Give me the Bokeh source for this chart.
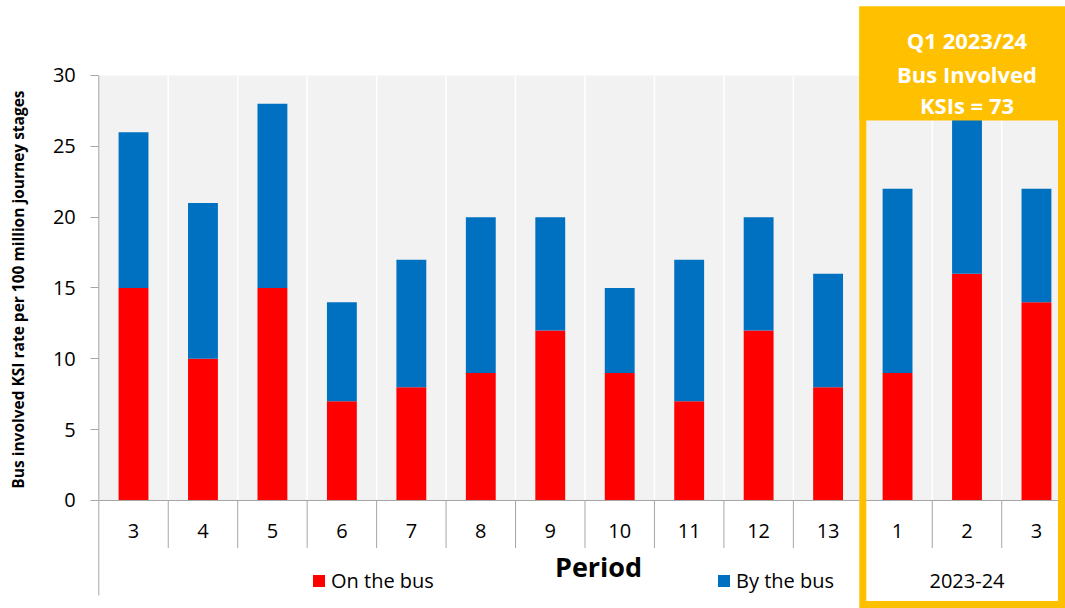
import math
from bokeh.plotting import figure
from bokeh.models import (ColumnDataSource, Range1d, FixedTicker, BoxAnnotation, Label,
                          Legend, LegendItem)
from bokeh.embed import file_html
from bokeh.resources import INLINE

# ---- data ----
periods = ["3", "4", "5", "6", "7", "8", "9", "10", "11", "12", "13", "1", "2", "3"]
on_the_bus = [15, 10, 15, 7, 8, 9, 12, 9, 7, 12, 8, 9, 16, 14]
by_the_bus = [11, 11, 13, 7, 9, 11, 8, 6, 10, 8, 8, 13, 12, 8]
group_label = "2023-24"
group_start = 11  # index of first period in 2023-24
y_ticks = [0, 5, 10, 15, 20, 25, 30]
y_title = "Bus involved KSI rate per 100 million journey stages"
x_title = "Period"
banner_lines = ["Q1 2023/24", "Bus Involved", "KSIs = 73"]

FONT = "Open Sans"
RED = "#FF0000"
BLUE = "#0070C0"
ORANGE = "#FFC000"
GREY = "#A6A6A6"

xs = list(range(len(periods)))
bounds = [i - 0.5 for i in xs]
y_top = max(y_ticks)
source = ColumnDataSource(dict(x=xs, on=on_the_bus, by=by_the_bus))

p = figure(width=1065, height=608, output_backend="svg", toolbar_location=None,
           x_range=Range1d(-1.915, 13.418), y_range=Range1d(-7.624, 35.294),
           min_border=0)
p.background_fill_color = "white"
p.border_fill_color = "white"
p.outline_line_color = None
p.grid.visible = False

# plot-area background
p.quad(left=[bounds[0]], right=[len(periods)], bottom=[0], top=[y_top],
       fill_color="#F2F2F2", line_color=None, level="image")
# white category separators in the plot area
p.segment(x0=bounds[1:], y0=0, x1=bounds[1:], y1=y_top, line_color="white", line_width=1.5,
          level="underlay")

rs = p.vbar_stack(["on", "by"], x="x", width=0.43, color=[RED, BLUE], line_color=None,
                  source=source)

# category axis line and separators
p.segment(x0=[bounds[0]], y0=[0], x1=[len(periods)], y1=[0], line_color=GREY, line_width=1)
p.segment(x0=bounds[1:], y0=0, x1=bounds[1:], y1=-3.35, line_color=GREY, line_width=1)
# value axis line continuing down as the outer separator
p.segment(x0=[bounds[0]], y0=[-6.7], x1=[bounds[0]], y1=[y_top], line_color=GREY, line_width=1)

# x axis (tick labels only)
xa = p.xaxis[0]
xa.fixed_location = 0
xa.ticker = FixedTicker(ticks=xs)
xa.major_label_overrides = {i: lab for i, lab in enumerate(periods)}
xa.axis_line_color = None
xa.major_tick_line_color = None
xa.minor_tick_line_color = None
xa.major_tick_out = 0
xa.major_tick_in = 0
xa.major_label_text_font = FONT
xa.major_label_text_font_size = "20px"
xa.major_label_text_color = "black"
xa.major_label_standoff = 24

# y axis
ya = p.yaxis[0]
ya.fixed_location = bounds[0]
ya.ticker = FixedTicker(ticks=y_ticks)
ya.axis_line_color = None
ya.major_tick_line_color = GREY
ya.major_tick_out = 8
ya.major_tick_in = 0
ya.minor_tick_line_color = None
ya.major_label_text_font = FONT
ya.major_label_text_font_size = "20px"
ya.major_label_text_color = "black"
ya.major_label_standoff = 15

# axis titles
p.add_layout(Label(x=-1.656, y=14.89, text=y_title, angle=math.pi / 2,
                   text_font=FONT, text_font_style="bold", text_font_size="15.5px",
                   text_color="black", text_align="center", text_baseline="middle"))
p.add_layout(Label(x=6.695, y=-4.66, text=x_title, text_font=FONT, text_font_style="bold",
                   text_font_size="27px", text_color="black", text_align="center",
                   text_baseline="alphabetic"))

# group label
p.add_layout(Label(x=(group_start + len(periods) - 1) / 2, y=-5.65, text=group_label,
                   text_font=FONT, text_font_size="20px", text_align="center",
                   text_baseline="alphabetic", text_color="black"))

# legends
leg1 = Legend(items=[LegendItem(label="On the bus", renderers=[rs[0]])], location=(311, 14))
leg2 = Legend(items=[LegendItem(label="By the bus", renderers=[rs[1]])], location=(716, 14))
for lg in (leg1, leg2):
    lg.orientation = "horizontal"
    lg.padding = 0
    lg.margin = 0
    lg.spacing = 0
    lg.border_line_color = None
    lg.background_fill_alpha = 0
    lg.glyph_width = 15
    lg.glyph_height = 15
    lg.label_height = 20
    lg.label_standoff = 5
    lg.label_text_font = FONT
    lg.label_text_font_size = "20px"
    lg.label_text_color = "black"
    p.add_layout(lg)

# orange highlight box
p.add_layout(BoxAnnotation(left=10.45, right=13.6, top=34.87, bottom=26.82,
                           fill_color=ORANGE, fill_alpha=1, line_color=None))
p.add_layout(BoxAnnotation(left=10.5, right=13.36, top=34.62, bottom=-7.34,
                           fill_alpha=0, line_color=ORANGE, line_width=7, line_alpha=1,
                           line_join="miter"))
for txt, yy in zip(banner_lines, [32.51, 30.11, 27.92]):
    p.add_layout(Label(x=12, y=yy, text=txt, text_font=FONT, text_font_style="bold",
                       text_font_size="22px", text_color="white", text_align="center",
                       text_baseline="alphabetic"))

open("out.html", "w").write(file_html(p, INLINE))
